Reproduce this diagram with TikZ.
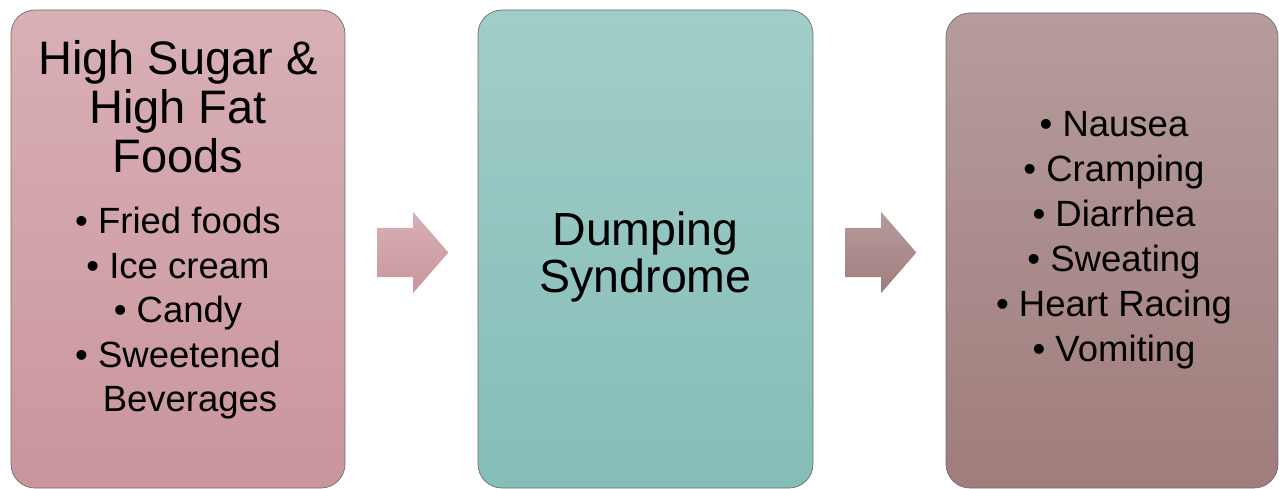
\documentclass[tikz,border=0pt]{standalone}
\usepackage{fontspec}
\setmainfont{Liberation Sans}
\usetikzlibrary{shapes.arrows}

\definecolor{foodtop}{RGB}{216,176,181}
\definecolor{foodbot}{RGB}{202,149,157}
\definecolor{dumptop}{RGB}{161,205,200}
\definecolor{dumpbot}{RGB}{133,189,183}
\definecolor{symptop}{RGB}{182,156,156}
\definecolor{sympbot}{RGB}{160,124,124}
\definecolor{edgegray}{RGB}{110,110,110}

\tikzset{
  stagebox/.style={rectangle,
        draw = edgegray,
        line width = 0.7pt,
        rounded corners = 24pt,
        inner sep = 0pt,
        minimum width = 335pt,
        minimum height = 478pt},
  blockarrow/.style={single arrow,
        inner xsep = 0pt,
        inner ysep = 24.5pt,
        single arrow head extend = 16pt,
        single arrow tip angle = 98,
        minimum height = 71pt,
        anchor = tip},
  titletext/.style={align = center, inner sep = 0pt, anchor = north,
        font = \fontsize{47}{49}\selectfont},
  itemtext/.style={align = center, inner sep = 0pt, anchor = north,
        font = \fontsize{36.5}{44.5}\selectfont}
}

\begin{document}
\begin{tikzpicture}[x=1pt,y=-1pt]
  \useasboundingbox (0,0) rectangle (1279,489);

  % the three stages
  \node[stagebox,
        minimum width = 334pt,
        top color = foodtop,
        bottom color = foodbot
        ] (food) at (178,249) {};

  \node[stagebox,
        top color = dumptop,
        bottom color = dumpbot
        ] (dump) at (645.5,249) {};

  \node[stagebox,
        minimum width = 332pt,
        minimum height = 475pt,
        top color = symptop,
        bottom color = sympbot
        ] (symp) at (1112,250.5) {};

  % texts
  \node[titletext] (foodtitle) at ([yshift=-31pt]food.north)
        {High Sugar \&\\High Fat\\Foods};
  \node[itemtext] (fooditems) at ([yshift=-197.4pt]food.north)
        {• Fried foods\\• Ice cream\\• Candy\\• Sweetened\\\hspace*{24pt}Beverages};

  \node[titletext,
        font = \fontsize{46.5}{47}\selectfont
        ] (dumptitle) at ([yshift=-202pt]dump.north)
        {Dumping\\Syndrome};

  \node[itemtext,
        font = \fontsize{36.5}{45}\selectfont
        ] (sympitems) at ([xshift=2pt,yshift=-99pt]symp.north)
        {• Nausea\\• Cramping\\• Diarrhea\\• Sweating\\• Heart Racing\\• Vomiting};

  % arrows between the stages
  \node[blockarrow,
        top color = foodtop,
        bottom color = foodbot
        ] (arrowone) at ([xshift=-29pt,yshift=-3.5pt]dump.west) {};

  \node[blockarrow,
        top color = symptop,
        bottom color = sympbot
        ] (arrowtwo) at ([xshift=-29pt,yshift=-2pt]symp.west) {};

\end{tikzpicture}
\end{document}
